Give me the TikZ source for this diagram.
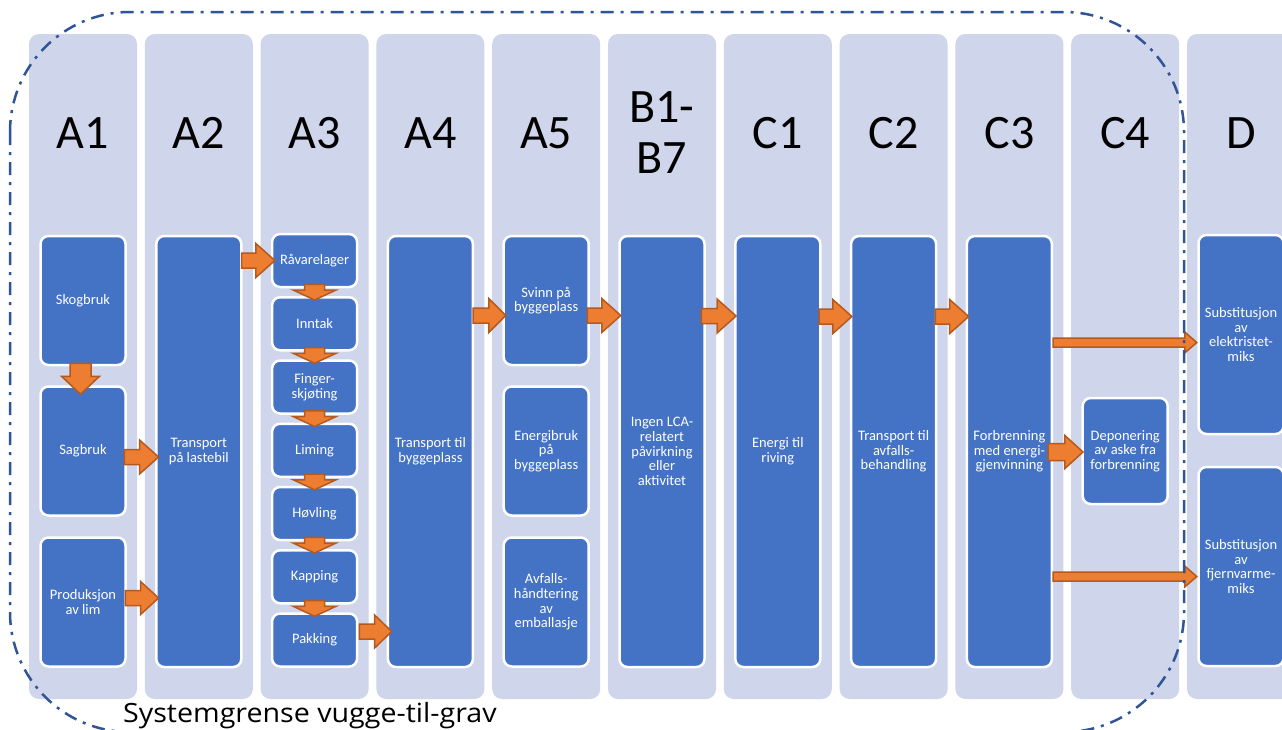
\documentclass[tikz,border=0pt]{standalone}
\usepackage{fontspec}
\setmainfont{Carlito}
\newfontfamily\labelfont{Open Sans}[FakeStretch=1.08]
\usetikzlibrary{calc}
\definecolor{colbg}{HTML}{CFD5EA}
\definecolor{boxblue}{HTML}{4472C4}
\definecolor{arrowfill}{HTML}{ED7D31}
\definecolor{arrowdraw}{HTML}{B55A1E}
\definecolor{bound}{HTML}{2F5597}
\tikzset{
  colbox/.style={rectangle, rounded corners=10pt, fill=colbg, draw=none, minimum width=108pt, minimum height=665pt, inner sep=0pt},
  bluebox/.style={rectangle, rounded corners=8pt, fill=boxblue, draw=white, line width=2.5pt, minimum width=85pt, inner sep=1pt, text=white, align=center, font=\fontsize{14.5}{14.7}\selectfont},
  header/.style={anchor=base, font=\fontsize{48}{52}\selectfont, text=black, inner sep=0pt},
  blockarrow/.style={fill=arrowfill, draw=arrowdraw, line width=1.5pt, line join=miter},
  boundary/.style={draw=bound, line width=2.5pt, dash pattern=on 13pt off 7pt on 3pt off 7pt, rounded corners=120pt},
}
% right block arrow: #1 start, #2 tip (x only), #3 shaft half, #4 head half, #5 head length
\newcommand\rarr[5]{%
  \path[blockarrow] let \p1=(#1), \p2=(#2) in
    (\x1,\y1+#3pt) -- (\x2-#5pt,\y1+#3pt) -- (\x2-#5pt,\y1+#4pt) -- (\x2,\y1)
    -- (\x2-#5pt,\y1-#4pt) -- (\x2-#5pt,\y1-#3pt) -- (\x1,\y1-#3pt) -- cycle;}
% down block arrow: #1 start, #2 tip (y only)
\newcommand\darr[5]{%
  \path[blockarrow] let \p1=(#1), \p2=(#2) in
    (\x1-#3pt,\y1) -- (\x1-#3pt,\y2+#5pt) -- (\x1-#4pt,\y2+#5pt) -- (\x1,\y2)
    -- (\x1+#4pt,\y2+#5pt) -- (\x1+#3pt,\y2+#5pt) -- (\x1+#3pt,\y1) -- cycle;}
\begin{document}
\begin{tikzpicture}[x=1pt,y=-1pt]
\path[use as bounding box, clip] (0,0) rectangle (1282,729);
\fill[white] (0,0) rectangle (1282,729);
% columns
\foreach \n/\x in {A1/83, A2/198.8, A3/314.6, A4/430.4, A5/546.2, B/662, C1/777.8, C2/893.6, C3/1009.4, C4/1125.2, D/1241}
  \node[colbox] (col\n) at (\x,366.5) {};
% headers
\node[header] (hA1) at (83,148) {A1};
\node[header] (hA2) at (198.8,148) {A2};
\node[header] (hA3) at (314.6,148) {A3};
\node[header] (hA4) at (430.4,148) {A4};
\node[header] (hA5) at (546.2,148) {A5};
\node[header] (hB1) at (662,122) {B1-};
\node[header] (hB7) at (662,173) {B7};
\node[header] (hC1) at (777.8,148) {C1};
\node[header] (hC2) at (893.6,148) {C2};
\node[header] (hC3) at (1009.4,148) {C3};
\node[header] (hC4) at (1125.2,148) {C4};
\node[header] (hD) at (1241,148) {D};
% A1
\node[bluebox, minimum height=129pt] (skog) at (83,300.5) {Skogbruk};
\node[bluebox, minimum height=129pt] (sag) at (83,451) {Sagbruk};
\node[bluebox, minimum height=129pt] (prod) at (83,602) {Produksjon\\av lim};
% A2
\node[bluebox, minimum height=431pt] (a2) at (198.8,451.5) {Transport\\på lastebil};
% A3
\node[bluebox, minimum height=53pt] (r1) at (314.6,260.5) {Råvarelager};
\node[bluebox, minimum height=53pt] (r2) at (314.6,323.75) {Inntak};
\node[bluebox, minimum height=53pt] (r3) at (314.6,387) {Finger-\\skjøting};
\node[bluebox, minimum height=53pt] (r4) at (314.6,450.25) {Liming};
\node[bluebox, minimum height=53pt] (r5) at (314.6,513.5) {Høvling};
\node[bluebox, minimum height=53pt] (r6) at (314.6,576.75) {Kapping};
\node[bluebox, minimum height=53pt] (r7) at (314.6,640) {Pakking};
% A4
\node[bluebox, minimum height=431pt] (a4) at (430.4,451.5) {Transport til\\byggeplass};
% A5
\node[bluebox, minimum height=129pt] (svinn) at (546.2,300.5) {Svinn på\\byggeplass};
\node[bluebox, minimum height=129pt] (energi) at (546.2,451) {Energibruk\\på\\byggeplass};
\node[bluebox, minimum height=129pt] (avfall) at (546.2,602) {Avfalls-\\håndtering\\av\\emballasje};
% B
\node[bluebox, minimum height=431pt] (b) at (662,451.5) {Ingen LCA-\\relatert\\påvirkning\\eller\\aktivitet};
% C
\node[bluebox, minimum height=431pt] (c1) at (777.8,451.5) {Energi til\\riving};
\node[bluebox, minimum height=431pt] (c2) at (893.6,451.5) {Transport til\\avfalls-\\behandling};
\node[bluebox, minimum height=431pt] (c3) at (1009.4,451.5) {Forbrenning\\med energi-\\gjenvinning};
\node[bluebox, minimum height=106pt] (dep) at (1125.2,451) {Deponering\\av aske fra\\forbrenning};
% D
\node[bluebox, minimum height=199pt] (d1) at (1241,334.5) {Substitusjon\\av\\elektristet-\\miks};
\node[bluebox, minimum height=199pt] (d2) at (1241,566.5) {Substitusjon\\av\\fjernvarme-\\miks};
% arrows
\darr{$(skog.south)+(-2.5,-3)$}{$(sag.north)+(0,9)$}{10.5}{19}{18}
\rarr{$(sag.east)+(-2.5,6)$}{$(a2.west)+(3.5,0)$}{7.5}{17}{19}
\rarr{$(prod.east)+(-1.5,-4)$}{$(a2.west)+(3.5,0)$}{7.5}{16.5}{18}
\rarr{$(a2.east |- r1.west)+(-1,0)$}{$(r1.west)+(4,0)$}{7.5}{17}{19}
\foreach \i/\j in {r1/r2, r2/r3, r3/r4, r4/r5, r5/r6, r6/r7}
  \darr{$(\i.south)+(0,-4)$}{$(\j.north)+(0,4)$}{10}{21.5}{10};
\rarr{$(r7.east)+(1,-8.5)$}{$(a4.west)+(5,0)$}{7.5}{16.5}{17}
\rarr{$(a4.east |- svinn.west)+(-1,15)$}{$(svinn.west)+(3.3,0)$}{7.5}{17}{17}
\rarr{$(svinn.east)+(-2.5,15)$}{$(b.west)+(2.5,0)$}{7.5}{17}{19}
\rarr{$(b.east |- svinn.west)+(-4.5,15.5)$}{$(c1.west)+(2,0)$}{7.5}{17}{19}
\rarr{$(c1.east |- svinn.west)+(-2.5,16)$}{$(c2.west)+(2,0)$}{7.5}{17}{19}
\rarr{$(c2.east |- svinn.west)+(-2,16)$}{$(c3.west)+(3,0)$}{7.5}{17}{19}
\rarr{$(c3.east |- dep.west)+(-5,1)$}{$(dep.west)+(1.5,0)$}{8.5}{16.5}{18}
\rarr{$(c3.east |- d1.west)+(0,8)$}{$(d1.west)+(-0.5,0)$}{4.5}{10.5}{12}
\rarr{$(c3.east |- d2.west)+(0,10)$}{$(d2.west)+(-0.5,0)$}{4.5}{10.5}{12}
% system boundary
\draw[boundary] (10,12) rectangle (1184,732);
\node[anchor=base west, inner sep=0pt, font=\labelfont\fontsize{26.5}{30}\selectfont] (label) at (123,722) {Systemgrense vugge-til-grav};
\end{tikzpicture}
\end{document}
